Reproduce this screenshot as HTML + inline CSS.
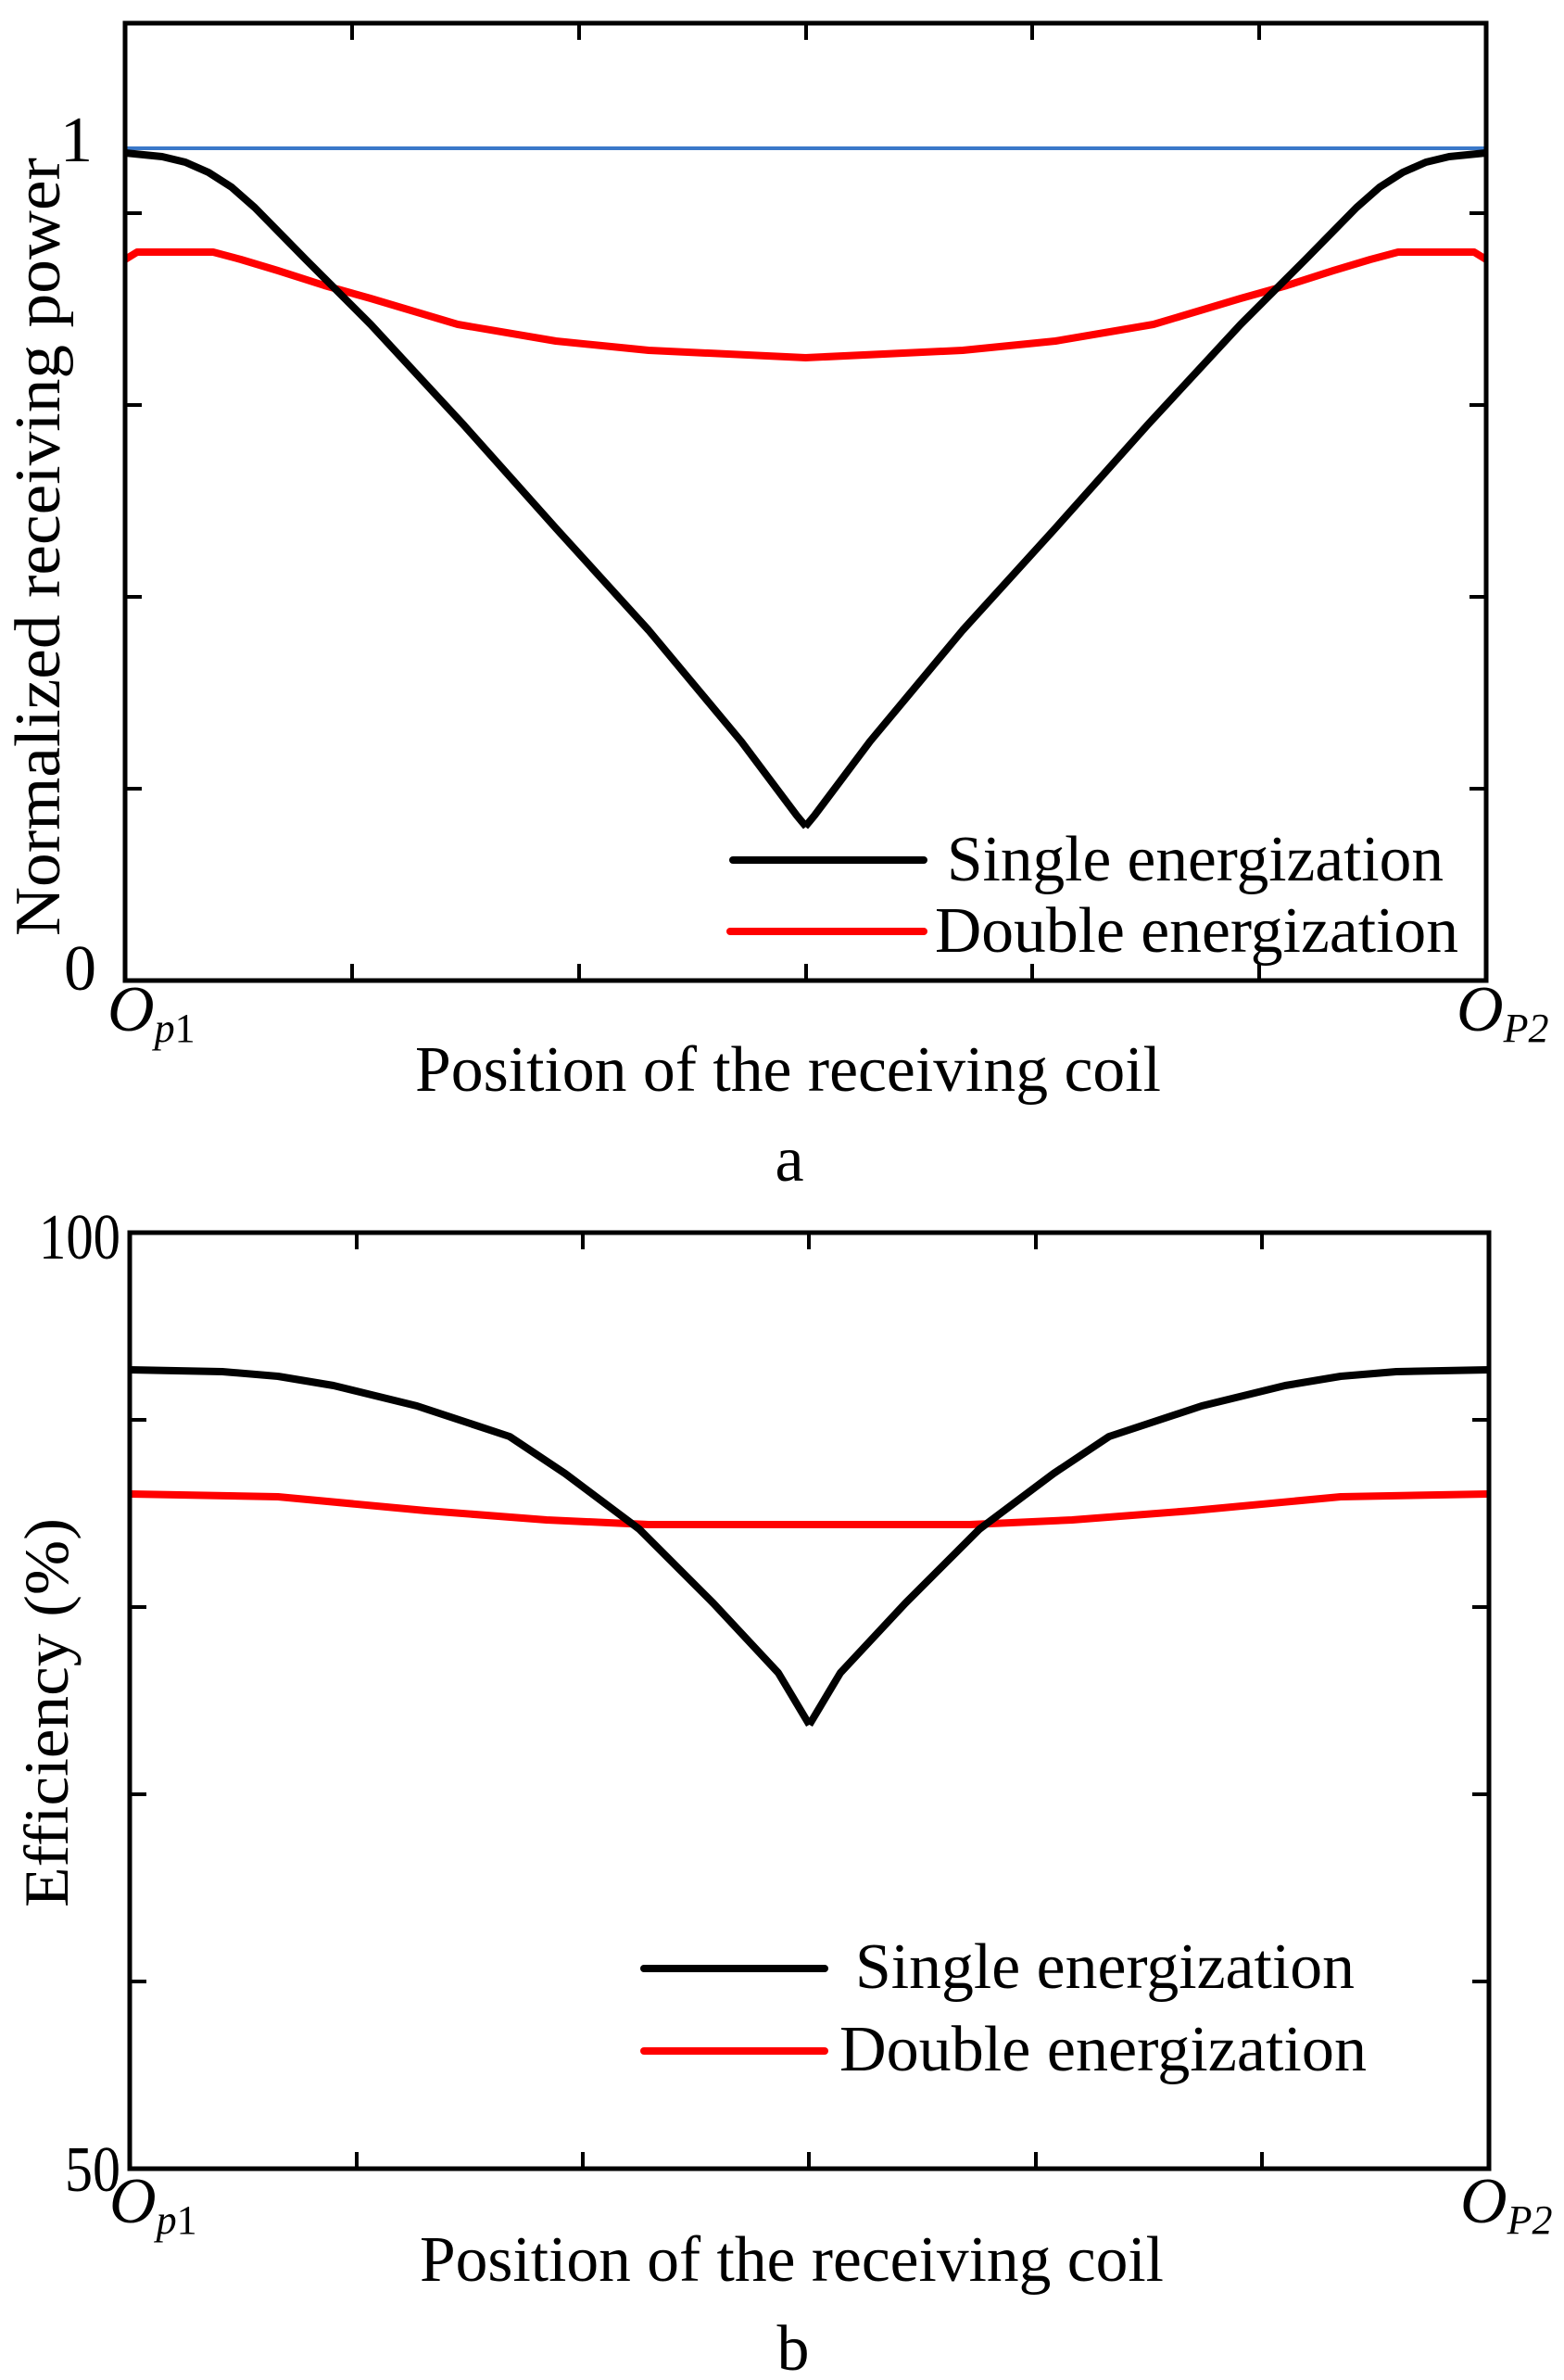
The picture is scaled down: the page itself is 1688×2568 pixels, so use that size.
<!DOCTYPE html>
<html><head><meta charset="utf-8"><style>
html,body{margin:0;padding:0;background:#fff}
svg{display:block}
text{font-family:"Liberation Serif","Times New Roman",serif;fill:#000}
</style></head><body>
<svg width="1688" height="2568" viewBox="0 0 1688 2568" xmlns="http://www.w3.org/2000/svg" font-family="Liberation Serif, Times New Roman, serif">
<defs>
<g id="blackA"><polyline fill="none" stroke="#000" stroke-width="8" stroke-linejoin="round" points="135,165 175,169 200,175 225,186 250,202 275,224 330,280 400,350 500,458 600,570 700,680 800,800 860,880 870,892"/></g>
<g id="redA"><polyline fill="none" stroke="#f00" stroke-width="8" stroke-linejoin="round" points="135,280 148,272 230,272 260,280 300,292 350,308 400,322 494,350 600,368 700,378 870,386"/></g>
<g id="blackB"><polyline fill="none" stroke="#000" stroke-width="8" stroke-linejoin="round" points="140,1478 240,1480 300,1485 360,1495 450,1517 550,1550 610,1590 690,1650 770,1730 840,1805 873.5,1861"/></g>
<g id="redB"><polyline fill="none" stroke="#f00" stroke-width="8" stroke-linejoin="round" points="140,1612 300,1615 460,1630 590,1640 700,1645 873.5,1645"/></g>
</defs>

<!-- Plot a -->
<line x1="135" y1="160" x2="1604" y2="160" stroke="#3a78c9" stroke-width="4"/>
<use href="#redA"/>
<use href="#redA" transform="translate(1739,0) scale(-1,1)"/>
<use href="#blackA"/>
<use href="#blackA" transform="translate(1739,0) scale(-1,1)"/>
<rect x="135" y="25" width="1469" height="1033" fill="none" stroke="#000" stroke-width="5"/>
<g stroke="#000" stroke-width="4">
<line x1="135" y1="851" x2="153" y2="851"/><line x1="135" y1="644" x2="153" y2="644"/><line x1="135" y1="437" x2="153" y2="437"/><line x1="135" y1="230" x2="153" y2="230"/>
<line x1="1604" y1="851" x2="1586" y2="851"/><line x1="1604" y1="644" x2="1586" y2="644"/><line x1="1604" y1="437" x2="1586" y2="437"/><line x1="1604" y1="230" x2="1586" y2="230"/>
<line x1="380" y1="1058" x2="380" y2="1040"/><line x1="625" y1="1058" x2="625" y2="1040"/><line x1="870" y1="1058" x2="870" y2="1040"/><line x1="1114" y1="1058" x2="1114" y2="1040"/><line x1="1359" y1="1058" x2="1359" y2="1040"/>
<line x1="380" y1="25" x2="380" y2="43"/><line x1="625" y1="25" x2="625" y2="43"/><line x1="870" y1="25" x2="870" y2="43"/><line x1="1114" y1="25" x2="1114" y2="43"/><line x1="1359" y1="25" x2="1359" y2="43"/>
</g>
<text x="100" y="174" font-size="70" text-anchor="end">1</text>
<text x="104" y="1068" font-size="70" text-anchor="end">0</text>
<text transform="translate(64,590) rotate(-90)" font-size="70" text-anchor="middle" textLength="840" lengthAdjust="spacingAndGlyphs">Normalized receiving power</text>
<line x1="791" y1="928" x2="997" y2="928" stroke="#000" stroke-width="8" stroke-linecap="round"/>
<text x="1022" y="950" font-size="70" textLength="536" lengthAdjust="spacingAndGlyphs">Single energization</text>
<line x1="788" y1="1005" x2="997" y2="1005" stroke="#f00" stroke-width="8" stroke-linecap="round"/>
<text x="1009" y="1027" font-size="70" textLength="565" lengthAdjust="spacingAndGlyphs">Double energization</text>
<text x="116" y="1112" font-size="70" font-style="italic">O<tspan font-size="44" dy="12">p</tspan><tspan font-size="44" font-style="normal">1</tspan></text>
<text x="1572" y="1112" font-size="70" font-style="italic">O<tspan font-size="44" dy="12">P2</tspan></text>
<text x="448" y="1177" font-size="70" textLength="805" lengthAdjust="spacingAndGlyphs">Position of the receiving coil</text>
<text x="852" y="1274" font-size="70" text-anchor="middle">a</text>

<!-- Plot b -->
<use href="#redB"/>
<use href="#redB" transform="translate(1747,0) scale(-1,1)"/>
<use href="#blackB"/>
<use href="#blackB" transform="translate(1747,0) scale(-1,1)"/>
<rect x="140" y="1330" width="1467" height="1010" fill="none" stroke="#000" stroke-width="5"/>
<g stroke="#000" stroke-width="4">
<line x1="140" y1="1532" x2="158" y2="1532"/><line x1="140" y1="1734" x2="158" y2="1734"/><line x1="140" y1="1936" x2="158" y2="1936"/><line x1="140" y1="2138" x2="158" y2="2138"/>
<line x1="1607" y1="1532" x2="1589" y2="1532"/><line x1="1607" y1="1734" x2="1589" y2="1734"/><line x1="1607" y1="1936" x2="1589" y2="1936"/><line x1="1607" y1="2138" x2="1589" y2="2138"/>
<line x1="385" y1="2340" x2="385" y2="2322"/><line x1="629" y1="2340" x2="629" y2="2322"/><line x1="873" y1="2340" x2="873" y2="2322"/><line x1="1118" y1="2340" x2="1118" y2="2322"/><line x1="1362" y1="2340" x2="1362" y2="2322"/>
<line x1="385" y1="1330" x2="385" y2="1348"/><line x1="629" y1="1330" x2="629" y2="1348"/><line x1="873" y1="1330" x2="873" y2="1348"/><line x1="1118" y1="1330" x2="1118" y2="1348"/><line x1="1362" y1="1330" x2="1362" y2="1348"/>
</g>
<text x="130" y="1358" font-size="70" text-anchor="end" textLength="88" lengthAdjust="spacingAndGlyphs">100</text>
<text x="130" y="2364" font-size="70" text-anchor="end" textLength="60" lengthAdjust="spacingAndGlyphs">50</text>
<text transform="translate(73,2058) rotate(-90)" font-size="68" textLength="420" lengthAdjust="spacingAndGlyphs">Efficiency (%)</text>
<line x1="695" y1="2124" x2="890" y2="2124" stroke="#000" stroke-width="8" stroke-linecap="round"/>
<text x="923" y="2145" font-size="70" textLength="539" lengthAdjust="spacingAndGlyphs">Single energization</text>
<line x1="695" y1="2213" x2="890" y2="2213" stroke="#f00" stroke-width="8" stroke-linecap="round"/>
<text x="906" y="2234" font-size="70" textLength="569" lengthAdjust="spacingAndGlyphs">Double energization</text>
<text x="118" y="2398" font-size="70" font-style="italic">O<tspan font-size="44" dy="12">p</tspan><tspan font-size="44" font-style="normal">1</tspan></text>
<text x="1576" y="2398" font-size="70" font-style="italic">O<tspan font-size="44" dy="12">P2</tspan></text>
<text x="453" y="2461" font-size="70" textLength="803" lengthAdjust="spacingAndGlyphs">Position of the receiving coil</text>
<text x="856" y="2557" font-size="70" text-anchor="middle">b</text>
</svg>
</body></html>
